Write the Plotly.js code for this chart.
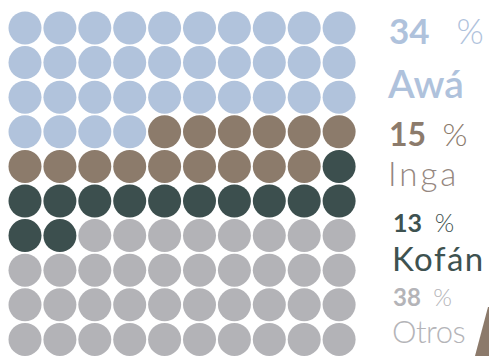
<!DOCTYPE html>
<html>
<head>
<meta charset="utf-8">
<script src="https://cdn.plot.ly/plotly-3.0.1.min.js"></script>
<style>html,body{margin:0;padding:0;background:#fff;}#chart{width:489px;height:356px;}</style>
</head>
<body>
<div id="chart"></div>
<script>
// ---- data ----
const categories = ['Awá', 'Inga', 'Kofán', 'Otros'];
const percents = [34, 15, 13, 38];
const gridColumns = 10;

// ---- styles ----
const dotColors = ['#b1c3dc', '#8c7b6b', '#3c4f4e', '#b3b3b7'];
const pctColors = ['#afc2dc', '#8c7b6c', '#3e5250', '#b4b4b8'];
const labelColors = ['#afc2dc', '#958780', '#3e5250', '#b4b4b8'];

const W = 489, H = 356;
const px = v => v / W;
const py = v => 1 - v / H;

const traces = [];
let n = 0;
categories.forEach((cat, i) => {
  const xs = [], ys = [];
  for (let k = 0; k < percents[i]; k++) {
    xs.push(n % gridColumns);
    ys.push(Math.floor(n / gridColumns));
    n++;
  }
  traces.push({
    type: 'scatter', mode: 'markers', name: cat,
    x: xs, y: ys,
    marker: {size: 33, color: dotColors[i], line: {width: 0}},
    hoverinfo: 'skip'
  });
});

// label layout (pixel positions of box tops / lefts)
const pctStyle = [
  {size: 35, top: 8, left: 388, gap: '&nbsp;&nbsp;&nbsp;'},
  {size: 32, top: 113, left: 388, gap: '&nbsp;&nbsp;'},
  {size: 25, top: 206, left: 392, gap: '&nbsp;&nbsp;'},
  {size: 24, top: 281, left: 392, gap: '&nbsp;&nbsp;'}
];
const labStyle = [
  {size: 39, top: 59, left: 386, weight: 600, ls: 0},
  {size: 33, top: 152, left: 387, weight: 300, ls: 3},
  {size: 33, top: 236.5, left: 391, weight: 400, ls: 1.5},
  {size: 31, top: 310.5, left: 391, weight: 300, ls: -0.5}
];

const annotations = [];
categories.forEach((cat, i) => {
  const p = pctStyle[i], l = labStyle[i];
  annotations.push({
    xref: 'paper', yref: 'paper', x: px(p.left), y: py(p.top),
    xanchor: 'left', yanchor: 'top', showarrow: false, borderpad: 0,
    text: '<b>' + percents[i] + '</b>' + p.gap + '<span style="font-weight:300">%</span>',
    font: {family: 'Lato', size: p.size, color: pctColors[i], weight: 400}
  });
  annotations.push({
    xref: 'paper', yref: 'paper', x: px(l.left), y: py(l.top),
    xanchor: 'left', yanchor: 'top', showarrow: false, borderpad: 0,
    text: l.ls ? '<span style="letter-spacing:' + l.ls + 'px">' + cat + '</span>' : cat,
    font: {family: 'Lato', size: l.size, color: labelColors[i], weight: l.weight}
  });
});

const layout = {
  width: W, height: H,
  margin: {l: 0, r: 0, t: 0, b: 0},
  paper_bgcolor: '#ffffff', plot_bgcolor: '#ffffff',
  showlegend: false,
  xaxis: {range: [-25 / 34.9, (W - 25) / 34.9], visible: false, fixedrange: true},
  yaxis: {range: [(H - 28) / 34.6, -28 / 34.6], visible: false, fixedrange: true},
  annotations: annotations,
  shapes: [{
    type: 'path', xref: 'paper', yref: 'paper',
    path: 'M ' + px(475) + ' ' + py(356) + ' L ' + px(488) + ' ' + py(307) + ' L ' + px(489) + ' ' + py(307) + ' L ' + px(489) + ' ' + py(356) + ' Z',
    fillcolor: '#8c7a6b', line: {width: 0}, layer: 'above'
  }]
};

Plotly.newPlot('chart', traces, layout, {displayModeBar: false, staticPlot: true});
</script>
</body>
</html>
